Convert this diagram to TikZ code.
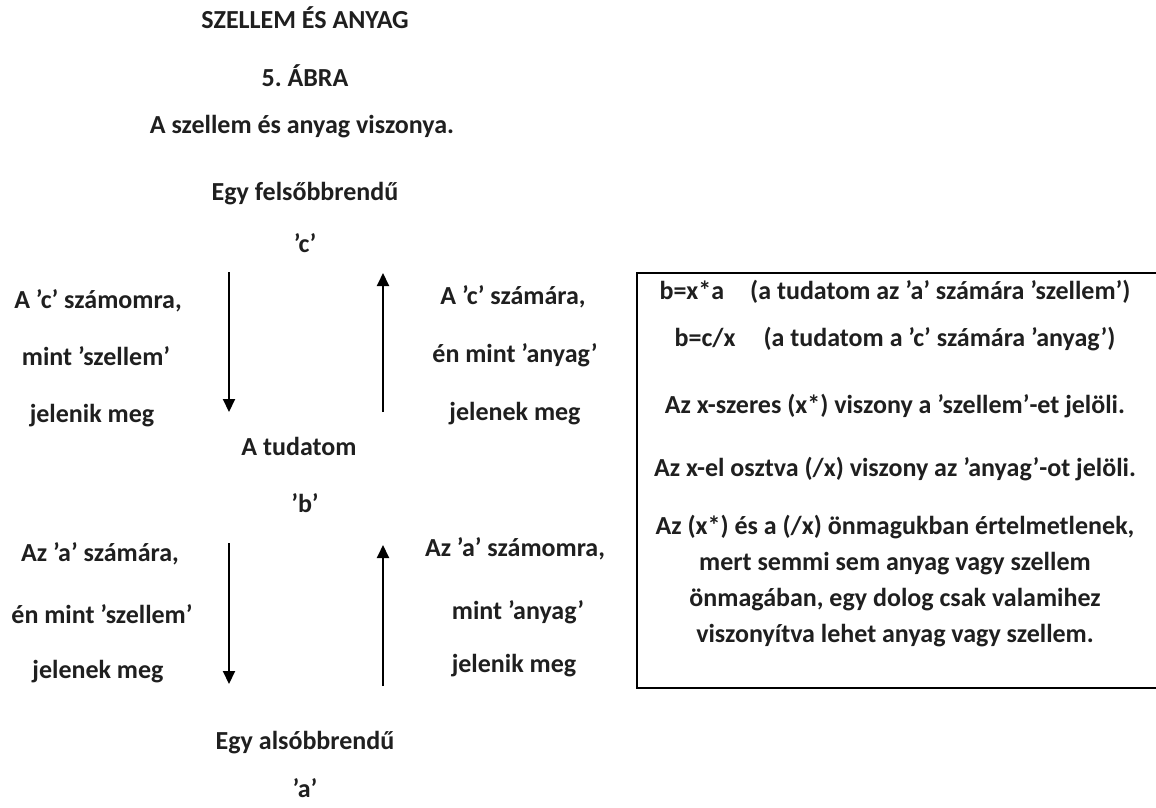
\documentclass[tikz,border=0pt]{standalone}
\usepackage{fontspec}
\setmainfont{Carlito}
\usetikzlibrary{arrows.meta}
\begin{document}
\frenchspacing
\begin{tikzpicture}[x=1pt,y=-1pt,
  every node/.style={inner sep=0pt},
  lbl/.style={font=\fontsize{26}{32}\selectfont\bfseries, anchor=mid, text=black!88},
  arr/.style={line width=2pt, -{Triangle[width=12pt,length=13pt]}},
  frame/.style={line width=2pt}]
\useasboundingbox (0,0) rectangle (1156,807);
\fill[white] (0,0) rectangle (1156,807);
% centre column
\node[lbl] (title) at (305,26) {SZELLEM ÉS ANYAG};
\node[lbl] (fig) at (305,84) {5. ÁBRA};
\node[lbl] (sub) at (302,131) {A szellem és anyag viszonya.};
\node[lbl] (hi) at (305,198) {Egy felsőbbrendű};
\node[lbl] (c) at (305,250) {’c’};
\node[lbl] (b1) at (299,453) {A tudatom};
\node[lbl] (b) at (305,510) {’b’};
\node[lbl] (lo) at (305,747) {Egy alsóbbrendű};
\node[lbl] (a) at (305,795) {’a’};
% upper left / right
\node[lbl] (l1) at (98,306) {A ’c’ számomra,};
\node[lbl] (l2) at (96,363) {mint ’szellem’};
\node[lbl] (l3) at (92,420) {jelenik meg};
\node[lbl] (r1) at (513,302) {A ’c’ számára,};
\node[lbl] (r2) at (515,360) {én mint ’anyag’};
\node[lbl] (r3) at (515,418) {jelenek meg};
% lower left / right
\node[lbl] (l4) at (100,559) {Az ’a’ számára,};
\node[lbl] (l5) at (102,621) {én mint ’szellem’};
\node[lbl] (l6) at (98,676) {jelenek meg};
\node[lbl] (r4) at (515,554) {Az ’a’ számomra,};
\node[lbl] (r5) at (518,617) {mint ’anyag’};
\node[lbl] (r6) at (514,670) {jelenik meg};
% arrows
\coordinate (d1s) at (229,272);
\coordinate (d1e) at (229,412);
\coordinate (u1s) at (383,412);
\coordinate (u1e) at (383,273);
\coordinate (d2s) at (229,543);
\coordinate (d2e) at (229,684);
\coordinate (u2s) at (383,686);
\coordinate (u2e) at (383,545);
\draw[arr] (d1s) -- (d1e);
\draw[arr] (u1s) -- (u1e);
\draw[arr] (d2s) -- (d2e);
\draw[arr] (u2s) -- (u2e);
% box
\coordinate (bx1) at (1170,273);
\coordinate (bx2) at (637,688);
\draw[frame] (bx1) -| (bx2) -- (1170,688);
\node[lbl] (e1) at (895,297) {b=x*a\hspace{26pt}(a tudatom az ’a’ számára ’szellem’)};
\node[lbl] (e2) at (895,344) {b=c/x\hspace{28pt}(a tudatom a ’c’ számára ’anyag’)};
\node[lbl] (e3) at (895,411) {Az x-szeres (x*) viszony a ’szellem’-et jelöli.};
\node[lbl] (e4) at (895,474) {Az x-el osztva (/x) viszony az ’anyag’-ot jelöli.};
\node[lbl] (e5) at (895,532) {Az (x*) és a (/x) önmagukban értelmetlenek,};
\node[lbl] (e6) at (895,568) {mert semmi sem anyag vagy szellem};
\node[lbl] (e7) at (895,604) {önmagában, egy dolog csak valamihez};
\node[lbl] (e8) at (895,640) {viszonyítva lehet anyag vagy szellem.};
\end{tikzpicture}
\end{document}
